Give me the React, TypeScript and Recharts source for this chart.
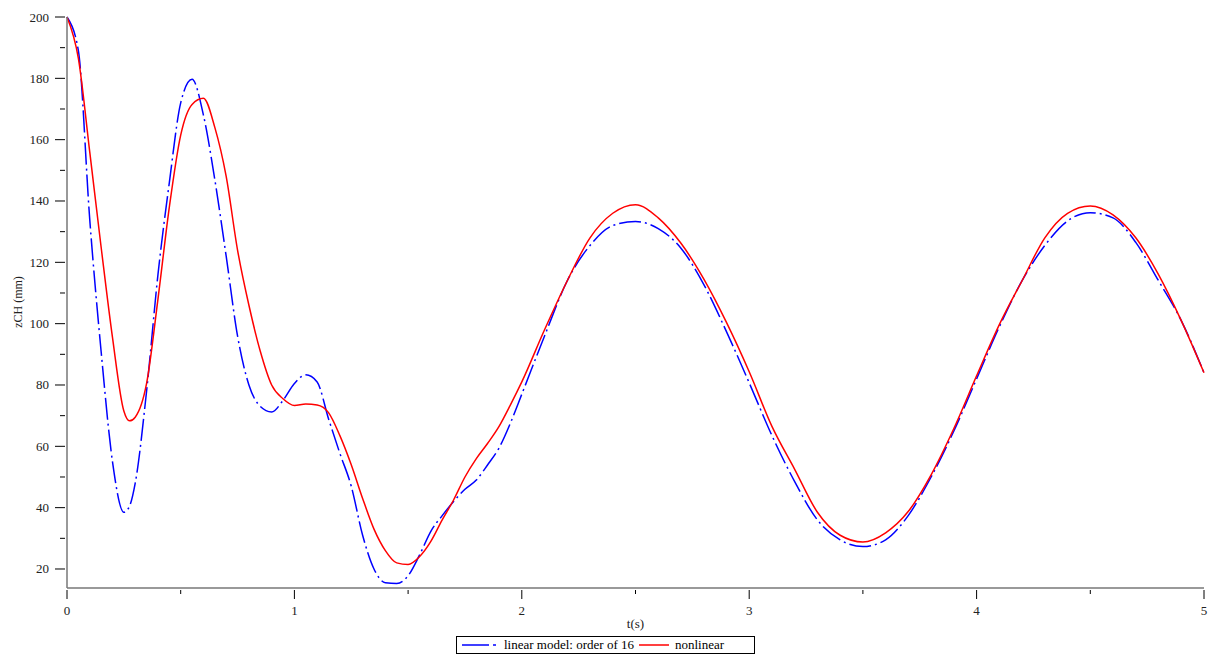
import { LineChart, Line, XAxis, YAxis, Legend } from 'recharts';

// sample times (s), finer steps in the transient part
const tValues = [
  0, 0.05, 0.1, 0.15, 0.2, 0.25, 0.275, 0.3, 0.35, 0.4, 0.45, 0.5, 0.55, 0.6, 0.65, 0.7, 0.75, 0.8,
  0.85, 0.9, 0.95, 1.0, 1.05, 1.1, 1.15, 1.2, 1.25, 1.3, 1.35, 1.4, 1.45, 1.5, 1.55, 1.6, 1.65, 1.7,
  1.75, 1.8, 1.85, 1.9, 1.95, 2.0, 2.1, 2.2, 2.3, 2.4, 2.5, 2.6, 2.7, 2.8, 2.9, 3.0, 3.1, 3.2, 3.3,
  3.4, 3.5, 3.6, 3.7, 3.8, 3.9, 4.0, 4.1, 4.2, 4.3, 4.4, 4.5, 4.6, 4.7, 4.8, 4.9, 5.0,
];

// zCH (mm), linear model of order 16
const linearValues = [
  200, 189, 134, 91, 55, 38.5, 40.5, 48, 78, 116, 146, 172, 179.7, 168, 147, 122, 96, 80,
  73, 71.2, 75, 80.5, 83.3, 81, 69, 57.7, 47, 31, 20, 15.5, 15.3, 17.8, 24.5, 32.3, 37.4, 42,
  46, 49, 54, 59.5, 67.6, 77, 96, 114, 125.5, 132, 133.3, 131, 124.6, 112.8, 97.4, 80.7, 63.5, 48.5, 36,
  29.5, 27.3, 29.5, 37.5, 50, 65, 82, 99, 114, 125.5, 133.5, 136.2, 134.5, 126.5, 114, 101, 84,
];

// zCH (mm), nonlinear model
const nonlinearValues = [
  200, 186.5, 156, 125, 95.5, 71.5, 68.3, 69.5, 80.5, 108, 138, 161.5, 171.5, 173.5, 164, 148, 124, 106,
  91, 80, 75.5, 73.3, 73.8, 73.5, 71, 63.5, 54, 43, 33, 26, 22, 21.5, 24, 29, 36, 42.5,
  50, 56, 61, 66.5, 73.5, 81, 98, 114, 128, 136, 138.8, 134.5, 126.2, 114.6, 100.4, 84.3, 66.5, 52.5, 38.5,
  31, 28.8, 31.8, 38.8, 50.7, 65.8, 83, 99.7, 114, 128, 136, 138.4, 135.5, 128, 116, 101, 84,
];

const xTicks = [0, 0.5, 1, 1.5, 2, 2.5, 3, 3.5, 4, 4.5, 5];
const yTicks = [20, 30, 40, 50, 60, 70, 80, 90, 100, 110, 120, 130, 140, 150, 160, 170, 180, 190, 200];

const data = tValues.map((t, i) => ({
  t,
  linear: linearValues[i],
  nonlinear: nonlinearValues[i],
}));

const FONT = '"Liberation Serif", "Times New Roman", serif';
const TEXT = '#222';

const XTick = ({ x, y, payload }: any) => {
  const major = Number.isInteger(payload.value);
  return (
    <g>
      <line x1={x} x2={x} y1={y} y2={y + (major ? 9 : 4)} stroke="#000" />
      {major && (
        <text x={x} y={y + 25} textAnchor="middle" fontSize={13} fontFamily={FONT} fill={TEXT}>
          {payload.value}
        </text>
      )}
    </g>
  );
};

const YTick = ({ x, y, payload }: any) => {
  const major = payload.value % 20 === 0;
  return (
    <g>
      <line x1={x - (major ? 10 : 5)} x2={x} y1={y} y2={y} stroke="#000" />
      {major && (
        <text x={x - 16} y={y + 4.5} textAnchor="end" fontSize={13} fontFamily={FONT} fill={TEXT}>
          {payload.value}
        </text>
      )}
    </g>
  );
};

const LegendBox = () => (
  <div style={{ height: 30, position: 'relative' }}>
    <div
      style={{
        position: 'absolute',
        left: 456,
        top: 8,
        width: 299,
        height: 18,
        border: '1px solid #000',
        boxSizing: 'border-box',
        display: 'flex',
        alignItems: 'center',
        fontFamily: FONT,
        fontSize: 13,
        color: '#000',
        whiteSpace: 'nowrap',
      }}
    >
      <svg width={38} height={10} style={{ marginLeft: 5 }}>
        <line x1={0} x2={38} y1={5} y2={5} stroke="#0000ff" strokeWidth={1.5} strokeDasharray="27 4 3 40" />
      </svg>
      <span style={{ marginLeft: 4 }}>linear model: order of 16</span>
      <svg width={30} height={10} style={{ marginLeft: 5 }}>
        <line x1={0} x2={30} y1={5} y2={5} stroke="#ff0000" strokeWidth={1.5} />
      </svg>
      <span style={{ marginLeft: 6 }}>nonlinear</span>
    </div>
  </div>
);

export default function App() {
  return (
    <div style={{ position: 'absolute', left: 0, top: 0, background: '#fff' }}>
      <LineChart
        width={1208}
        height={658}
        data={data}
        margin={{ top: 17, right: 4, bottom: 0, left: 0 }}
      >
        <XAxis
          dataKey="t"
          type="number"
          domain={[0, 5]}
          ticks={xTicks}
          height={40}
          tickSize={0}
          tickLine={false}
          tick={<XTick />}
          axisLine={{ stroke: '#777', strokeWidth: 1.5 }}
          label={{
            content: ({ viewBox }: any) => (
              <text
                x={viewBox.x + viewBox.width / 2}
                y={viewBox.y + 40}
                textAnchor="middle"
                fontSize={13}
                fontFamily={FONT}
                fill={TEXT}
              >
                t(s)
              </text>
            ),
          }}
        />
        <YAxis
          type="number"
          domain={[13.8, 200]}
          ticks={yTicks}
          width={67}
          tickSize={0}
          tickLine={false}
          tick={<YTick />}
          axisLine={{ stroke: '#777', strokeWidth: 1.5 }}
          label={{
            content: () => (
              <text
                x={22}
                y={302}
                transform="rotate(-90 22 302)"
                textAnchor="middle"
                fontSize={12}
                fontFamily={FONT}
                fill={TEXT}
              >
                zCH (mm)
              </text>
            ),
          }}
        />
        <Legend verticalAlign="bottom" content={<LegendBox />} wrapperStyle={{ left: 0, width: 1208 }} />
        <Line
          type="monotone"
          dataKey="linear"
          name="linear model: order of 16"
          stroke="#0000ff"
          strokeWidth={1.5}
          strokeDasharray="22 4 2 4"
          dot={false}
          isAnimationActive={false}
        />
        <Line
          type="monotone"
          dataKey="nonlinear"
          name="nonlinear"
          stroke="#ff0000"
          strokeWidth={1.5}
          dot={false}
          isAnimationActive={false}
        />
      </LineChart>
    </div>
  );
}
